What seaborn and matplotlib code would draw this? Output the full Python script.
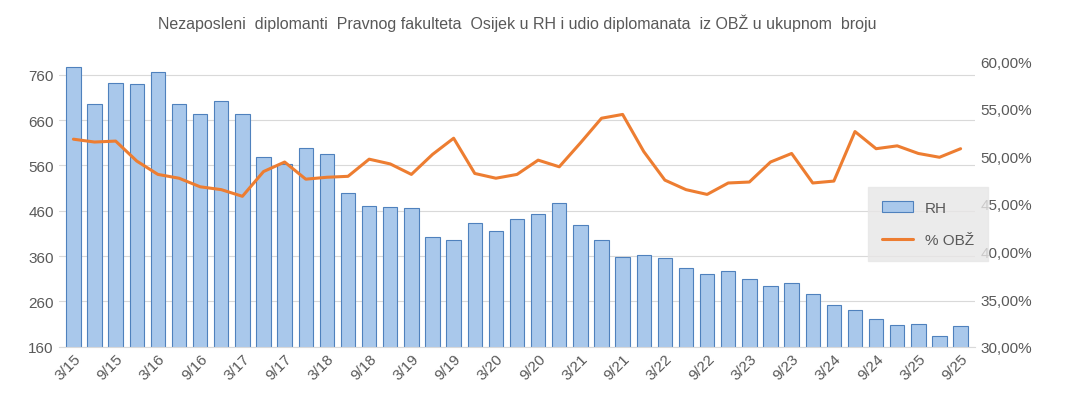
import numpy as np
import pandas as pd
import matplotlib
matplotlib.use('Agg')
import matplotlib.pyplot as plt
import seaborn as sns
from matplotlib.ticker import FuncFormatter

rh = [778, 696, 742, 740, 765, 696, 674, 703, 674, 578, 562, 599, 585, 499, 471,
      469, 465, 401, 396, 433, 415, 442, 453, 476, 428, 396, 358, 362, 355, 333,
      321, 326, 310, 294, 301, 276, 253, 240, 221, 208, 210, 183, 205]
obz = [51.8, 51.5, 51.6, 49.5, 48.1, 47.7, 46.8, 46.5, 45.8, 48.4, 49.4, 47.6, 47.8,
       47.9, 49.7, 49.2, 48.1, 50.2, 51.9, 48.2, 47.7, 48.1, 49.6, 48.9, 51.4, 54.0,
       54.4, 50.5, 47.5, 46.5, 46.0, 47.2, 47.3, 49.4, 50.3, 47.2, 47.4, 52.6, 50.8,
       51.1, 50.3, 49.9, 50.8]
periods = []
for yr in range(15, 26):
    for m in [3, 6, 9, 12]:
        periods.append(f'{m}/{yr}')
periods = periods[:len(rh)]

df = pd.DataFrame({'period': periods, 'RH': rh, 'OBZ': obz})
df['i'] = np.arange(len(df))

sns.set_style('white')
plt.rcParams['font.family'] = ['Calibri', 'Liberation Sans', 'DejaVu Sans']
grey = '#595959'

fig, ax = plt.subplots(figsize=(10.66, 4.14), dpi=100)
fig.subplots_adjust(left=0.055, right=0.915, top=0.85, bottom=0.16)

ax.bar(df['i'], df['RH'], width=0.68, color='#A9C8EB', edgecolor='#4F81BD',
       linewidth=0.8, label='RH', zorder=2)
ax.set_ylim(160, 790)
ax.set_yticks(range(160, 761, 100))
ax.set_xlim(-0.7, len(df) - 0.3)
ax.yaxis.grid(True, color='#D9D9D9', linewidth=0.8, zorder=0)
ax.set_axisbelow(True)

ax2 = ax.twinx()
sns.lineplot(data=df, x='i', y='OBZ', ax=ax2, color='#ED7D31', linewidth=2.2,
             label='% OBŽ', legend=False)
ax2.set_ylim(30, 60)
ax2.set_yticks(range(30, 61, 5))
ax2.yaxis.set_major_formatter(FuncFormatter(lambda v, p: f'{v:.2f}%'.replace('.', ',')))
ax2.set_ylabel('')
ax2.set_xlabel('')

ax.set_xticks(df['i'][::2])
ax.set_xticklabels(df['period'][::2], rotation=45, ha='right', rotation_mode='anchor')

for a in (ax, ax2):
    for s in a.spines.values():
        s.set_visible(False)
    a.tick_params(colors=grey, labelsize=11, length=0)
ax.spines['bottom'].set_visible(True)
ax.spines['bottom'].set_color('#D9D9D9')

ax.set_title('Nezaposleni  diplomanti  Pravnog fakulteta  Osijek u RH i udio diplomanata  iz OBŽ u ukupnom  broju',
             color=grey, fontsize=11.5, pad=24)

h1, l1 = ax.get_legend_handles_labels()
h2, l2 = ax2.get_legend_handles_labels()
leg = ax2.legend(h1 + h2, l1 + l2, loc='center left', bbox_to_anchor=(0.875, 0.43),
                 frameon=True, fancybox=False, facecolor='#E7E6E6', edgecolor='#E7E6E6',
                 fontsize=11, labelspacing=1.2, borderpad=0.9)
for t in leg.get_texts():
    t.set_color(grey)

fig.savefig('out.png', dpi=100)
